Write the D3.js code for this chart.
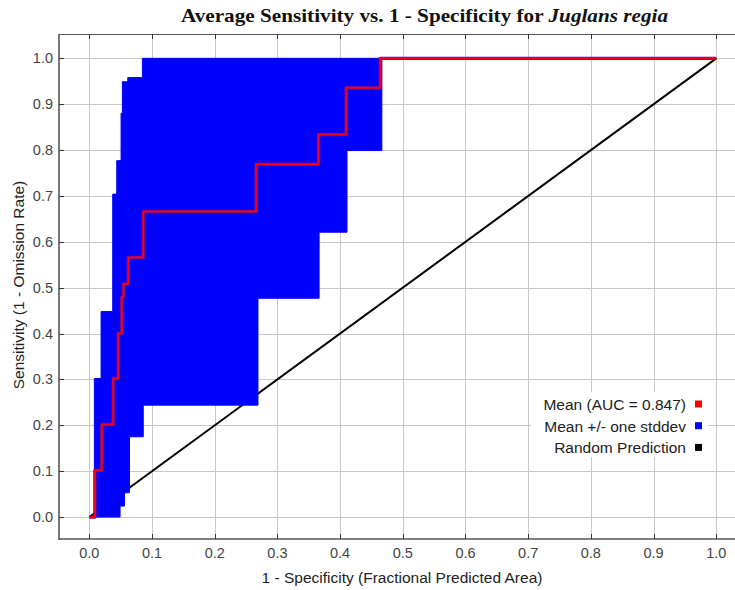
<!DOCTYPE html>
<html>
<head>
<meta charset="utf-8">
<script src="https://cdn.jsdelivr.net/npm/d3@7"></script>
<style>
  html, body { margin: 0; padding: 0; background: #fff; }
  svg { display: block; }
</style>
</head>
<body>
<svg id="chart" width="735" height="590"></svg>
<script>
// Mean ROC curve (step vertices: fraction predicted area, sensitivity)
const meanFpr = [0, 0.009, 0.0198, 0.038, 0.046, 0.0517, 0.0543, 0.062, 0.086, 0.266, 0.3655, 0.4096, 0.464, 1];
const meanTpr = [0, 0.102, 0.202, 0.302, 0.400, 0.480, 0.508, 0.566, 0.666, 0.769, 0.834, 0.936, 1.0, 1.0];

// Mean + one stddev (upper edge of band)
const upperFpr = [0, 0.008, 0.0187, 0.0373, 0.0437, 0.0506, 0.0527, 0.0613, 0.0846, 1];
const upperTpr = [0, 0.302, 0.448, 0.704, 0.777, 0.880, 0.949, 0.958, 1.0, 1.0];

// Mean - one stddev (lower edge of band)
const lowerFpr = [0, 0.049, 0.056, 0.064, 0.086, 0.269, 0.3665, 0.411, 0.4666, 1];
const lowerTpr = [0, 0.024, 0.053, 0.175, 0.244, 0.477, 0.621, 0.799, 1.0, 1.0];

// Random prediction diagonal
const randomFpr = [0, 1];
const randomTpr = [0, 1];

const tickValues = [0, 0.1, 0.2, 0.3, 0.4, 0.5, 0.6, 0.7, 0.8, 0.9, 1.0];

const legendLabels = ["Mean (AUC = 0.847)", "Mean +/- one stddev", "Random Prediction"];
const legendColors = ["#ff0000", "#0000ff", "#000000"];

const svg = d3.select("#chart");

const x = d3.scaleLinear().domain([-0.05, 1.05]).range([58, 747.6]);
const y = d3.scaleLinear().domain([-0.05, 1.05]).range([540, 35.4]);

const frame = { left: 59, top: 34, right: 747, bottom: 539 };

// plot background
svg.append("rect")
  .attr("x", frame.left).attr("y", frame.top)
  .attr("width", frame.right - frame.left).attr("height", frame.bottom - frame.top)
  .attr("fill", "#fff");

// grid
const grid = svg.append("g").attr("stroke", "#c8c8c8").attr("stroke-width", 1);
grid.selectAll("line.v").data(tickValues).join("line")
  .attr("x1", d => Math.round(x(d)) + 0.5).attr("x2", d => Math.round(x(d)) + 0.5)
  .attr("y1", frame.top).attr("y2", frame.bottom);
grid.selectAll("line.h").data(tickValues).join("line")
  .attr("y1", d => Math.round(y(d)) + 0.5).attr("y2", d => Math.round(y(d)) + 0.5)
  .attr("x1", frame.left).attr("x2", frame.right);

// step curve -> vertices (horizontal then vertical)
function stepVertices(xs, ys) {
  const pts = [];
  for (let i = 0; i < xs.length; i++) {
    if (i > 0) pts.push([xs[i], ys[i - 1]]);
    pts.push([xs[i], ys[i]]);
  }
  return pts;
}

const line = d3.line().x(d => x(d[0])).y(d => y(d[1]));

// random prediction
svg.append("path")
  .attr("d", line(randomFpr.map((f, i) => [f, randomTpr[i]])))
  .attr("fill", "none").attr("stroke", "#000").attr("stroke-width", 2);

// stddev band
const upperPts = stepVertices(upperFpr, upperTpr);
const lowerPts = stepVertices(lowerFpr, lowerTpr);
const bandPts = upperPts.concat(lowerPts.slice().reverse());
svg.append("path")
  .attr("d", line(bandPts) + "Z")
  .attr("fill", "#0000ff").attr("stroke", "#0000ff").attr("stroke-width", 1);

// mean curve
const meanPts = stepVertices(meanFpr, meanTpr);
svg.append("path")
  .attr("d", line(meanPts))
  .attr("fill", "none").attr("stroke", "#6a0a90").attr("stroke-width", 3.4)
  .attr("stroke-linejoin", "round");
svg.append("path")
  .attr("d", line(meanPts))
  .attr("fill", "none").attr("stroke", "#f0001c").attr("stroke-width", 2)
  .attr("stroke-linejoin", "round");

// frame axes
const axisColor = "#555";
svg.append("line").attr("x1", frame.left).attr("x2", frame.right)
  .attr("y1", frame.top + 0.5).attr("y2", frame.top + 0.5)
  .attr("stroke", axisColor).attr("stroke-width", 1.2);
svg.append("line").attr("x1", frame.left).attr("x2", frame.left)
  .attr("y1", frame.top).attr("y2", frame.bottom + 1)
  .attr("stroke", axisColor).attr("stroke-width", 1.6);
svg.append("line").attr("x1", frame.left).attr("x2", frame.right)
  .attr("y1", frame.bottom).attr("y2", frame.bottom)
  .attr("stroke", axisColor).attr("stroke-width", 1.6);

// ticks (inside the frame)
const ticks = svg.append("g").attr("stroke", "#333").attr("stroke-width", 1);
ticks.selectAll("line.b").data(tickValues).join("line")
  .attr("x1", d => Math.round(x(d)) + 0.5).attr("x2", d => Math.round(x(d)) + 0.5)
  .attr("y1", frame.bottom).attr("y2", frame.bottom - 5);
ticks.selectAll("line.t").data(tickValues).join("line")
  .attr("x1", d => Math.round(x(d)) + 0.5).attr("x2", d => Math.round(x(d)) + 0.5)
  .attr("y1", frame.top).attr("y2", frame.top + 5);
ticks.selectAll("line.l").data(tickValues).join("line")
  .attr("y1", d => Math.round(y(d)) + 0.5).attr("y2", d => Math.round(y(d)) + 0.5)
  .attr("x1", frame.left).attr("x2", frame.left + 5);

// tick labels
const fmt = d3.format(".1f");
const labelFont = "'Liberation Sans', Arial, sans-serif";
svg.append("g").selectAll("text").data(tickValues).join("text")
  .attr("x", d => x(d)).attr("y", 558)
  .attr("text-anchor", "middle")
  .attr("font-family", labelFont).attr("font-size", 14.5).attr("fill", "#444")
  .text(fmt);
svg.append("g").selectAll("text").data(tickValues).join("text")
  .attr("x", 53).attr("y", d => y(d) + 5)
  .attr("text-anchor", "end")
  .attr("font-family", labelFont).attr("font-size", 14.5).attr("fill", "#444")
  .text(fmt);

// axis titles
svg.append("text")
  .attr("x", 402).attr("y", 582.5)
  .attr("text-anchor", "middle")
  .attr("font-family", labelFont).attr("font-size", 15.5).attr("fill", "#222")
  .text("1 - Specificity (Fractional Predicted Area)");
svg.append("text")
  .attr("transform", "translate(23.5,285) rotate(-90)")
  .attr("text-anchor", "middle")
  .attr("font-family", labelFont).attr("font-size", 15.5).attr("fill", "#222")
  .text("Sensitivity (1 - Omission Rate)");

// chart title
const title = svg.append("text")
  .attr("x", 424.5).attr("y", 22)
  .attr("text-anchor", "middle")
  .attr("font-family", "'Liberation Serif', 'Times New Roman', serif")
  .attr("font-size", 19.5).attr("font-weight", "bold").attr("fill", "#111")
  .attr("textLength", 487).attr("lengthAdjust", "spacingAndGlyphs");
title.append("tspan").text("Average Sensitivity vs. 1 - Specificity for ");
title.append("tspan").attr("font-style", "italic").text("Juglans regia");

// legend
const legend = svg.append("g");
legend.append("rect")
  .attr("x", 531).attr("y", 392).attr("width", 177).attr("height", 65)
  .attr("fill", "#fff");
const rows = legend.selectAll("g.row").data(legendLabels).join("g")
  .attr("transform", (d, i) => `translate(0,${404.5 + i * 21.7})`);
rows.append("text")
  .attr("x", 686).attr("y", 5.5)
  .attr("text-anchor", "end")
  .attr("font-family", labelFont).attr("font-size", 15.5).attr("fill", "#222")
  .text(d => d);
rows.append("rect")
  .attr("x", 695).attr("y", -4).attr("width", 7).attr("height", 7)
  .attr("fill", (d, i) => legendColors[i]);
</script>
</body>
</html>
